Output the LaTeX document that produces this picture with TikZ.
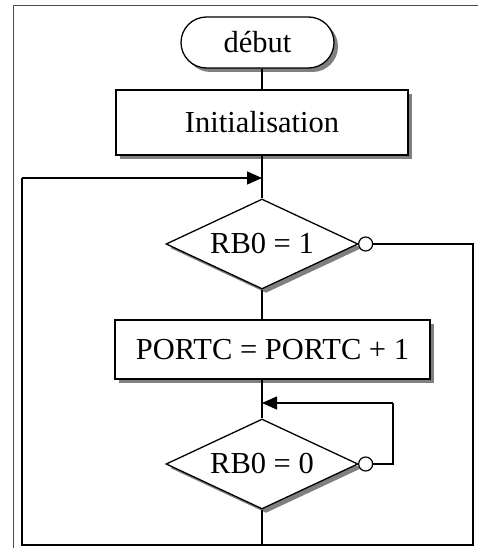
\documentclass[tikz,border=0pt]{standalone}
\usepackage{fontspec}
\setmainfont{Liberation Serif}
\usetikzlibrary{shapes.geometric,shapes.misc,shadows,arrows.meta}
\tikzset{
  shade/.style={drop shadow={shadow xshift=4pt,shadow yshift=-4pt,fill=black!50,opacity=1}},
  lbl/.style={font=\fontsize{30.5}{36}\selectfont},
  termbox/.style={rounded rectangle,draw,line width=1.3pt,fill=white,shade,lbl,
    minimum width=153pt,minimum height=51pt,inner sep=0pt},
  actbox/.style={rectangle,draw,line width=1.3pt,fill=white,shade,lbl,inner sep=0pt},
  testbox/.style={diamond,aspect=2.13,draw,line width=1.3pt,fill=white,shade,lbl,
    minimum width=192pt,minimum height=90pt,inner sep=0pt},
  nodot/.style={circle,draw,line width=1.2pt,fill=white,minimum size=14pt,inner sep=0pt},
  flow/.style={line width=1.3pt},
  tip/.style={-{Triangle[length=15pt,width=13pt]}},
  frameline/.style={line width=1pt,draw=black!70}
}
\begin{document}
\begin{tikzpicture}[x=1pt,y=-1pt]
  \useasboundingbox (0,0) rectangle (478,548);
  % page frame
  \draw[frameline] (478,6) -- (13,6) -- (13,548);

  % blocks
  \node[termbox] (start) at (257.5,42.5) {début};
  \node[actbox,minimum width=292pt,minimum height=65pt] (init) at (262,122.5) {Initialisation};
  \node[testbox] (t1) at (262,244) {RB0 = 1};
  \node[nodot] (n1) at ([xshift=7pt]t1.east) {};
  \node[actbox,minimum width=315pt,minimum height=59pt] (inc) at (272.5,349.5) {PORTC = PORTC + 1};
  \node[testbox] (t2) at (262,464) {RB0 = 0};
  \node[nodot] (n2) at ([xshift=7pt]t2.east) {};

  % loop corners
  \coordinate (j1) at (262,178);
  \coordinate (l1) at (22,178);
  \coordinate (l2) at (22,545);
  \coordinate (r1) at (473,244);
  \coordinate (r2) at (473,545);
  \coordinate (j2) at (262,403);
  \coordinate (w1) at (393,464);
  \coordinate (w2) at (393,403);
  \coordinate (bot) at (262,545);

  % connectors
  \draw[flow] (init.north |- start.south) -- (init.north);
  \draw[flow] (init.south) -- (t1.north);
  \draw[flow] (t1.south) -- (t1.south |- inc.north);
  \draw[flow] (t2.north |- inc.south) -- (t2.north);
  \draw[flow] (t2.south) -- (bot);
  \draw[flow] (n1.east) -- (r1) -- (r2) -- (l2) -- (l1);
  \draw[flow,tip] (l1) -- (j1);
  \draw[flow] (n2.east) -- (w1) -- (w2);
  \draw[flow,tip] (w2) -- (j2);
\end{tikzpicture}
\end{document}
